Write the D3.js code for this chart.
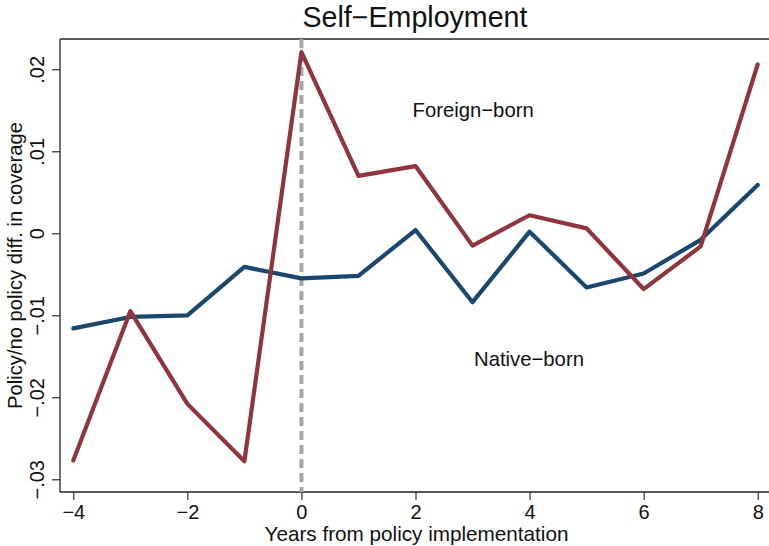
<!DOCTYPE html>
<html>
<head>
<meta charset="utf-8">
<script src="https://cdn.jsdelivr.net/npm/d3@7"></script>
<style>
  html, body { margin: 0; padding: 0; background: #fff; }
  svg { display: block; font-family: "Liberation Sans", Arial, Helvetica, sans-serif; }
</style>
</head>
<body>
<svg id="chart" width="769" height="546"></svg>
<script>
// Event-time estimates: years relative to the policy start
const years = [-4, -3, -2, -1, 0, 1, 2, 3, 4, 5, 6, 7, 8];
const foreignBorn = [-0.0277, -0.0095, -0.0208, -0.0278, 0.0221, 0.0070, 0.0082, -0.0015, 0.0022, 0.0006, -0.0068, -0.0016, 0.0206];
const nativeBorn = [-0.0116, -0.0102, -0.0100, -0.0041, -0.0055, -0.0052, 0.0004, -0.0084, 0.0002, -0.0066, -0.0049, -0.0008, 0.0059];
const xTicks = [-4, -2, 0, 2, 4, 6, 8];
const yTicks = [0.02, 0.01, 0, -0.01, -0.02, -0.03];
const yTickLabels = [".02", ".01", "0", "\u2212.01", "\u2212.02", "\u2212.03"];

const svg = d3.select("#chart");
const margin = { left: 60, right: 0, top: 39, bottom: 54 };
const W = 769, H = 546;

const x = d3.scaleLinear().domain([-4, 8]).range([73.3, 757.7]);
const y = d3.scaleLinear().domain([-0.03, 0.02]).range([479.3, 69.3]);

const plotBottom = H - margin.bottom; // 492

// frame: top rule
svg.append("line")
  .attr("x1", margin.left).attr("x2", W)
  .attr("y1", margin.top).attr("y2", margin.top)
  .attr("stroke", "#222").attr("stroke-width", 1.3);

// y axis
const yAxis = d3.axisLeft(y).tickValues(yTicks)
  .tickFormat((d, i) => yTickLabels[i]).tickSize(8).tickPadding(4);
const gy = svg.append("g").attr("transform", `translate(${margin.left},0)`).call(yAxis);
gy.select(".domain").attr("d", `M0,${margin.top}V${plotBottom}`).attr("stroke", "#222").attr("stroke-width", 1.3);
gy.selectAll(".tick line").attr("stroke", "#222").attr("stroke-width", 1.1);
gy.selectAll(".tick text")
  .attr("font-size", 20).attr("fill", "#111")
  .attr("text-anchor", "middle")
  .attr("x", null).attr("dy", null)
  .attr("transform", "translate(-16,0) rotate(-90)");

// x axis
const xAxis = d3.axisBottom(x).tickValues(xTicks)
  .tickFormat(d => d < 0 ? "\u2212" + Math.abs(d) : String(d)).tickSize(8).tickPadding(4);
const gx = svg.append("g").attr("transform", `translate(0,${plotBottom})`).call(xAxis);
gx.select(".domain").attr("d", `M${margin.left},0H${W}`).attr("stroke", "#222").attr("stroke-width", 1.3);
gx.selectAll(".tick line").attr("stroke", "#222").attr("stroke-width", 1.1);
gx.selectAll(".tick text").attr("font-size", 20).attr("fill", "#111").attr("dy", "0.75em");

// policy start marker
svg.append("line")
  .attr("x1", x(0)).attr("x2", x(0))
  .attr("y1", margin.top).attr("y2", plotBottom)
  .attr("stroke", "#a6a6a6").attr("stroke-width", 4)
  .attr("stroke-dasharray", "9,5");

const line = d3.line().x((d, i) => x(years[i])).y(d => y(d));

svg.append("path").datum(nativeBorn)
  .attr("d", line).attr("fill", "none")
  .attr("stroke", "#1a476f").attr("stroke-width", 4.2)
  .attr("stroke-linejoin", "round").attr("stroke-linecap", "round");

svg.append("path").datum(foreignBorn)
  .attr("d", line).attr("fill", "none")
  .attr("stroke", "#90353b").attr("stroke-width", 4.2)
  .attr("stroke-linejoin", "round").attr("stroke-linecap", "round");

// series labels
svg.append("text").attr("x", 412.5).attr("y", 116.5)
  .attr("font-size", 20.3).attr("fill", "#111").text("Foreign\u2212born");
svg.append("text").attr("x", 474).attr("y", 366)
  .attr("font-size", 20.3).attr("fill", "#111").text("Native\u2212born");

// title
svg.append("text").attr("x", 415).attr("y", 27)
  .attr("text-anchor", "middle").attr("font-size", 28.6).attr("fill", "#111")
  .text("Self\u2212Employment");

// axis titles
svg.append("text").attr("x", 416.5).attr("y", 541)
  .attr("text-anchor", "middle").attr("font-size", 20.7).attr("fill", "#111")
  .text("Years from policy implementation");
svg.append("text")
  .attr("transform", `translate(22,265.5) rotate(-90)`)
  .attr("text-anchor", "middle").attr("font-size", 20.2).attr("fill", "#111")
  .text("Policy/no policy diff. in coverage");
</script>
</body>
</html>
